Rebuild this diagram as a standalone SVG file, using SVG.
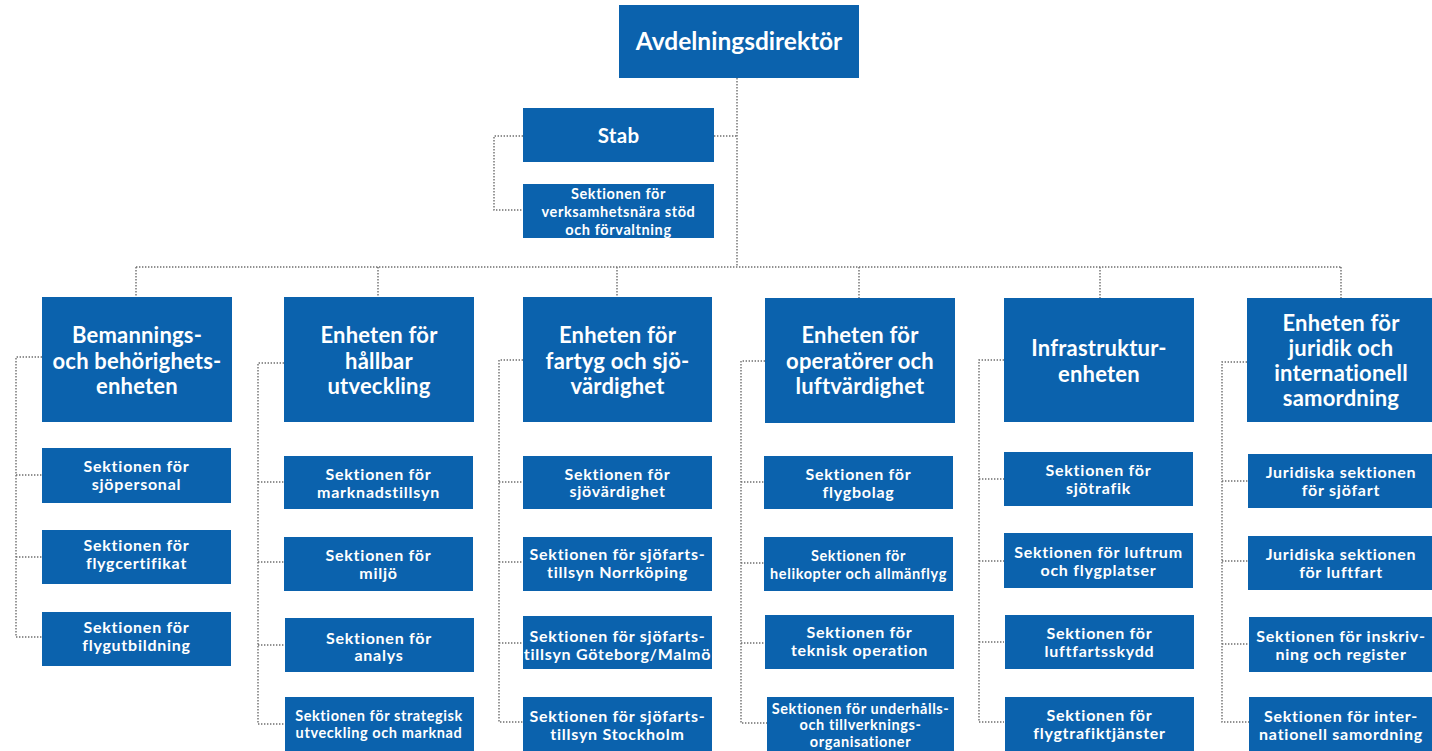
<svg xmlns="http://www.w3.org/2000/svg" width="1432" height="751" viewBox="0 0 1432 751">
<style>
.b{fill:#0b62ad}
text{fill:#fff;font-family:Lato,"Open Sans","Liberation Sans",sans-serif;font-weight:bold;text-anchor:middle}
.t1{font-size:24.5px}
.t2{font-size:22px;letter-spacing:0.2px}
.t3{font-size:16px;letter-spacing:0.75px}
.t4{font-size:14.5px;letter-spacing:0.6px}
.t5{font-size:20.5px;letter-spacing:0.3px}
.c{fill:none;stroke:#6e6e6e;stroke-width:1.4;stroke-dasharray:1.4 1.6}
</style>
<rect width="1432" height="751" fill="#fff"/>
<g id="connectors" class="c">
<path d="M737 78V267M136 267H1341M136 267V297M378 267V297M617 267V297M859 267V298M1100 267V298M1341 267V298"/>
<path d="M714 136H737M523 136H494V210H523"/>
<path d="M42 357H16V637H42M16 475H42M16 557H42"/>
<path d="M284 363H258V724H284M258 482H284M258 562H284M258 645H284"/>
<path d="M523 360H499V722H523M499 482H523M499 562H523M499 643H523"/>
<path d="M765 361H741V723H767M741 482H765M741 563H765M741 643H765"/>
<path d="M1004 360H979V722H1004M979 479H1004M979 561H1004M979 642H1004"/>
<path d="M1247 362H1222V722H1249M1222 481H1248M1222 561H1248M1222 644H1249"/>
</g>
<g id="avdelningsdirektor"><rect class="b" x="619" y="5" width="240" height="73"/><text class="t1" x="739" y="50">Avdelningsdirektör</text></g>
<g id="stab"><rect class="b" x="523" y="108" width="191" height="54"/><text class="t5" x="618.5" y="143">Stab</text></g>
<g id="verksamhetsnara"><rect class="b" x="523" y="184" width="191" height="54"/><text class="t4" x="618.5" y="198.5">Sektionen för</text><text class="t4" x="618.5" y="216.5">verksamhetsnära stöd</text><text class="t4" x="618.5" y="234.5">och förvaltning</text></g>

<g id="unit1"><rect class="b" x="42" y="297" width="190" height="125"/><text class="t2" x="137" y="342.5">Bemannings-</text><text class="t2" x="137" y="368.5">och behörighets-</text><text class="t2" x="137" y="393.5">enheten</text></g>
<g id="unit2"><rect class="b" x="284" y="297" width="190" height="125"/><text class="t2" x="379" y="343">Enheten för</text><text class="t2" x="379" y="368.5">hållbar</text><text class="t2" x="379" y="394">utveckling</text></g>
<g id="unit3"><rect class="b" x="523" y="297" width="189" height="125"/><text class="t2" x="617.5" y="342.5">Enheten för</text><text class="t2" x="617.5" y="368.5">fartyg och sjö-</text><text class="t2" x="617.5" y="393.5">värdighet</text></g>
<g id="unit4"><rect class="b" x="765" y="298" width="190" height="125"/><text class="t2" x="860" y="342.5">Enheten för</text><text class="t2" x="860" y="368.5">operatörer och</text><text class="t2" x="860" y="393.5">luftvärdighet</text></g>
<g id="unit5"><rect class="b" x="1004" y="298" width="190" height="124"/><text class="t2" x="1099" y="355.5">Infrastruktur-</text><text class="t2" x="1099" y="381.5">enheten</text></g>
<g id="unit6"><rect class="b" x="1247" y="298" width="190" height="124"/><text class="t2" x="1341" y="330.5">Enheten för</text><text class="t2" x="1341" y="355.5">juridik och</text><text class="t2" x="1341" y="380.5">internationell</text><text class="t2" x="1341" y="405.5">samordning</text></g>

<g id="s1a"><rect class="b" x="42" y="448" width="189" height="55"/><text class="t3" x="136.5" y="472">Sektionen för</text><text class="t3" x="136.5" y="489.5">sjöpersonal</text></g>
<g id="s1b"><rect class="b" x="42" y="530" width="189" height="54"/><text class="t3" x="136.5" y="551">Sektionen för</text><text class="t3" x="136.5" y="569">flygcertifikat</text></g>
<g id="s1c"><rect class="b" x="42" y="612" width="189" height="54"/><text class="t3" x="136.5" y="633">Sektionen för</text><text class="t3" x="136.5" y="650.5">flygutbildning</text></g>

<g id="s2a"><rect class="b" x="284" y="456" width="189" height="53"/><text class="t3" x="378.5" y="480">Sektionen för</text><text class="t3" x="378.5" y="497.5">marknadstillsyn</text></g>
<g id="s2b"><rect class="b" x="284" y="537" width="189" height="54"/><text class="t3" x="378.5" y="561">Sektionen för</text><text class="t3" x="378.5" y="579">miljö</text></g>
<g id="s2c"><rect class="b" x="285" y="618" width="189" height="54"/><text class="t3" x="379" y="643.5">Sektionen för</text><text class="t3" x="379" y="661">analys</text></g>
<g id="s2d"><rect class="b" x="285" y="697" width="189" height="56"/><text class="t4" x="379" y="721">Sektionen för strategisk</text><text class="t4" x="379" y="738">utveckling och marknad</text></g>

<g id="s3a"><rect class="b" x="523" y="456" width="189" height="53"/><text class="t3" x="617.5" y="479.5">Sektionen för</text><text class="t3" x="617.5" y="497">sjövärdighet</text></g>
<g id="s3b"><rect class="b" x="523" y="537" width="189" height="54"/><text class="t3" x="617.5" y="560">Sektionen för sjöfarts-</text><text class="t3" x="617.5" y="578">tillsyn Norrköping</text></g>
<g id="s3c"><rect class="b" x="523" y="616" width="189" height="53"/><text class="t3" x="617.5" y="641.5">Sektionen för sjöfarts-</text><text class="t3" x="617.5" y="659.5">tillsyn Göteborg/Malmö</text></g>
<g id="s3d"><rect class="b" x="523" y="697" width="189" height="56"/><text class="t3" x="617.5" y="722">Sektionen för sjöfarts-</text><text class="t3" x="617.5" y="739.5">tillsyn Stockholm</text></g>

<g id="s4a"><rect class="b" x="764" y="456" width="189" height="53"/><text class="t3" x="858.5" y="480">Sektionen för</text><text class="t3" x="858.5" y="498">flygbolag</text></g>
<g id="s4b"><rect class="b" x="764" y="537" width="189" height="54"/><text class="t4" x="858.5" y="561">Sektionen för</text><text class="t4" x="858.5" y="578.5">helikopter och allmänflyg</text></g>
<g id="s4c"><rect class="b" x="765" y="615" width="189" height="54"/><text class="t3" x="859.5" y="638">Sektionen för</text><text class="t3" x="859.5" y="655.5">teknisk operation</text></g>
<g id="s4d"><rect class="b" x="767" y="697" width="187" height="56"/><text class="t4" x="860.5" y="713.5">Sektionen för underhålls-</text><text class="t4" x="860.5" y="730">och tillverknings-</text><text class="t4" x="860.5" y="746.5">organisationer</text></g>

<g id="s5a"><rect class="b" x="1004" y="452" width="189" height="54"/><text class="t3" x="1098.5" y="476">Sektionen för</text><text class="t3" x="1098.5" y="494">sjötrafik</text></g>
<g id="s5b"><rect class="b" x="1004" y="533" width="189" height="55"/><text class="t3" x="1098.5" y="557.5">Sektionen för luftrum</text><text class="t3" x="1098.5" y="575.5">och flygplatser</text></g>
<g id="s5c"><rect class="b" x="1005" y="615" width="189" height="54"/><text class="t3" x="1099.5" y="639">Sektionen för</text><text class="t3" x="1099.5" y="657">luftfartsskydd</text></g>
<g id="s5d"><rect class="b" x="1005" y="697" width="189" height="56"/><text class="t3" x="1099.5" y="721">Sektionen för</text><text class="t3" x="1099.5" y="739">flygtrafiktjänster</text></g>

<g id="s6a"><rect class="b" x="1248" y="454" width="190" height="54"/><text class="t3" x="1341" y="477.5">Juridiska sektionen</text><text class="t3" x="1341" y="495.5">för sjöfart</text></g>
<g id="s6b"><rect class="b" x="1248" y="536" width="190" height="54"/><text class="t3" x="1341" y="559.5">Juridiska sektionen</text><text class="t3" x="1341" y="577.5">för luftfart</text></g>
<g id="s6c"><rect class="b" x="1249" y="617" width="190" height="55"/><text class="t3" x="1341" y="641.5">Sektionen för inskriv-</text><text class="t3" x="1341" y="659.5">ning och register</text></g>
<g id="s6d"><rect class="b" x="1249" y="697" width="190" height="56"/><text class="t3" x="1341" y="722">Sektionen för inter-</text><text class="t3" x="1341" y="740">nationell samordning</text></g>
</svg>
